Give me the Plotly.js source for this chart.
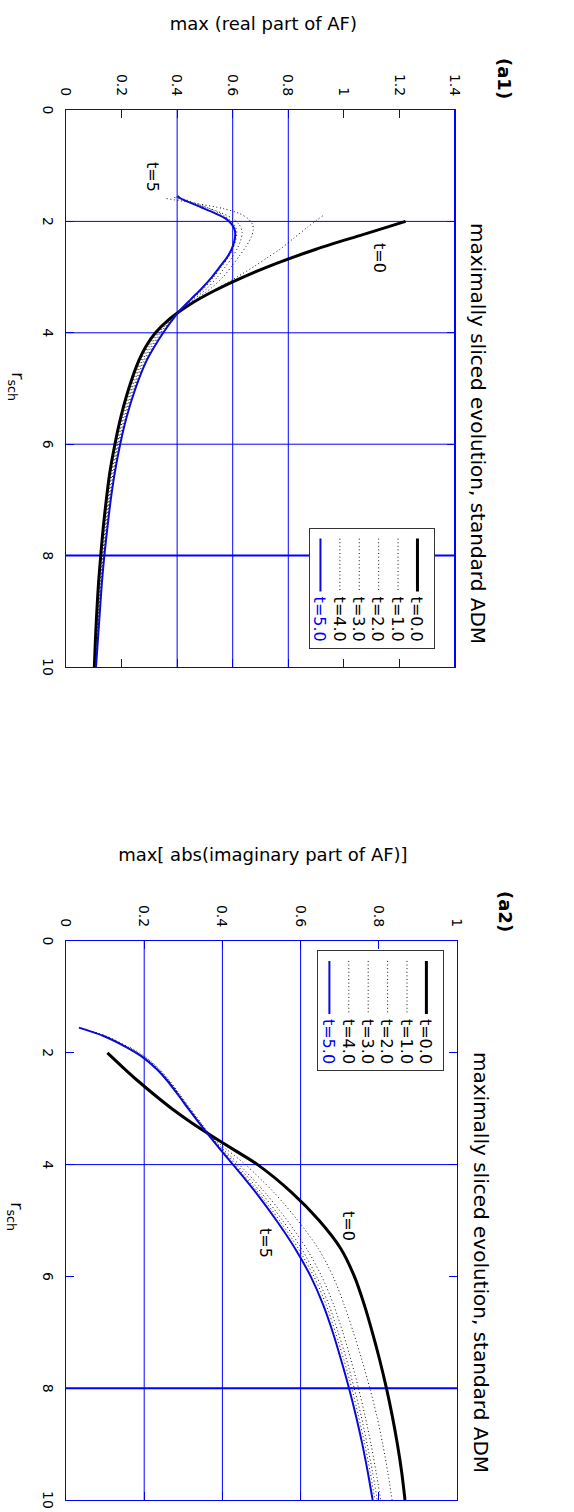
<!DOCTYPE html>
<html><head><meta charset="utf-8">
<script src="https://cdn.plot.ly/plotly-3.0.1.min.js"></script>
<style>
html,body{margin:0;padding:0;width:574px;height:1512px;overflow:hidden;background:#fff;}
.panel{position:absolute;left:0;width:756px;height:574px;transform-origin:0 0;transform:translate(574px,0) rotate(90deg);}
#p1{top:0;} #p2{top:756px;}
</style></head><body>
<div id="p1" class="panel"></div><div id="p2" class="panel"></div>
<script>
// ---------- data: panel (a1), max of real part of AF ----------
const seriesNames = ['t=0.0','t=1.0','t=2.0','t=3.0','t=4.0','t=5.0'];
const rTicks = [0,2,4,6,8,10];

const a1_r_t0 = [2.0,2.25,2.5,2.75,3.0,3.25,3.5,3.75,4.0,4.25,4.5,5.0,5.5,6.0,6.5,7.0,7.5,8.0,8.5,9.0,9.5,10.0];
const a1_y_t0 = [1.222,1.06,0.90,0.76,0.638,0.532,0.443,0.373,0.322,0.287,0.262,0.226,0.198,0.176,0.158,0.145,0.134,0.125,0.117,0.111,0.106,0.102];
const a1_r_t1 = [1.90,2.1,2.3,2.5,2.65,2.8,3.0,3.2,3.4,3.65,3.8,4.0,4.25,4.5,5.0,5.5,6.0,6.5,7.0,7.5,8.0,8.5,9.0,9.5,10.0];
const a1_y_t1 = [0.924,0.87,0.82,0.77,0.725,0.68,0.615,0.545,0.472,0.40,0.366,0.329,0.295,0.269,0.232,0.203,0.181,0.163,0.149,0.138,0.128,0.12,0.114,0.108,0.1035];
const a1_r_t2 = [1.59,1.68,1.77,1.86,1.95,2.05,2.15,2.28,2.45,2.62,2.8,3.0,3.2,3.4,3.65,3.8,4.0,4.25,4.5,5.0,5.5,6.0,6.5,7.0,7.5,8.0,8.5,9.0,9.5,10.0];
const a1_y_t2 = [0.362,0.47,0.566,0.625,0.655,0.671,0.674,0.667,0.648,0.624,0.597,0.565,0.522,0.468,0.40,0.369,0.335,0.301,0.275,0.237,0.207,0.185,0.166,0.152,0.141,0.131,0.122,0.116,0.11,0.105];
const a1_r_t3 = [1.57,1.65,1.74,1.85,1.95,2.07,2.2,2.35,2.5,2.66,2.81,3.0,3.2,3.4,3.65,3.8,4.0,4.25,4.5,5.0,5.5,6.0,6.5,7.0,7.5,8.0,8.5,9.0,9.5,10.0];
const a1_y_t3 = [0.39,0.44,0.50,0.56,0.60,0.625,0.634,0.628,0.615,0.596,0.574,0.545,0.508,0.46,0.40,0.372,0.34,0.307,0.28,0.242,0.212,0.188,0.17,0.155,0.144,0.133,0.125,0.118,0.112,0.106];
const a1_r_t4 = [1.56,1.6,1.7,1.8,1.9,2.0,2.1,2.21,2.35,2.5,2.66,2.81,3.0,3.2,3.4,3.65,3.8,4.0,4.25,4.5,5.0,5.5,6.0,6.5,7.0,7.5,8.0,8.5,9.0,9.5,10.0];
const a1_y_t4 = [0.398,0.425,0.48,0.53,0.57,0.595,0.61,0.615,0.61,0.60,0.582,0.56,0.532,0.497,0.454,0.40,0.376,0.346,0.313,0.286,0.246,0.216,0.192,0.173,0.158,0.147,0.136,0.127,0.12,0.113,0.107];
const a1_r_t5 = [1.54,1.58,1.65,1.75,1.85,1.95,2.05,2.15,2.25,2.35,2.5,2.65,2.8,3.0,3.2,3.4,3.6,3.8,4.0,4.25,4.5,5.0,5.5,6.0,6.5,7.0,7.5,8.0,8.5,9.0,9.5,10.0];
const a1_y_t5 = [0.402,0.41,0.44,0.488,0.535,0.575,0.596,0.607,0.609,0.606,0.596,0.579,0.556,0.525,0.489,0.449,0.41,0.378,0.35,0.318,0.29,0.25,0.219,0.195,0.176,0.161,0.149,0.138,0.129,0.122,0.115,0.108];

// ---------- data: panel (a2), max |imaginary part of AF| ----------
const a2_r_t0 = [2.0,2.25,2.5,2.75,3.0,3.25,3.5,3.75,4.0,4.5,5.0,5.5,6.0,6.5,7.0,7.5,8.0,8.5,9.0,9.5,10.0];
const a2_y_t0 = [0.106,0.144,0.1835,0.226,0.271,0.321,0.376,0.433,0.49,0.5775,0.6475,0.7025,0.7375,0.7625,0.7835,0.8025,0.8195,0.8345,0.8475,0.8585,0.867];
const a2_r_t1 = [1.9,2.1,2.3,2.5,2.75,3.0,3.25,3.5,3.75,4.0,4.5,5.0,5.5,6.0,6.5,7.0,7.5,8.0,8.5,9.0,9.5,10.0];
const a2_y_t1 = [0.164,0.208,0.24,0.265,0.292,0.318,0.345,0.372,0.415,0.459,0.532,0.593,0.645,0.683,0.711,0.735,0.757,0.777,0.795,0.81,0.823,0.834];
const a2_r_t2 = [1.62,1.7,1.9,2.1,2.3,2.5,2.75,3.0,3.25,3.5,3.75,4.0,4.5,5.0,5.5,6.0,6.5,7.0,7.5,8.0,8.5,9.0,9.5,10.0];
const a2_y_t2 = [0.066,0.103,0.16,0.206,0.238,0.263,0.29,0.316,0.343,0.371,0.406,0.443,0.509,0.566,0.615,0.654,0.684,0.708,0.729,0.748,0.765,0.78,0.793,0.805];
const a2_r_t3 = [1.58,1.7,1.9,2.1,2.3,2.5,2.75,3.0,3.25,3.5,3.75,4.0,4.5,5.0,5.5,6.0,6.5,7.0,7.5,8.0,8.5,9.0,9.5,10.0];
const a2_y_t3 = [0.05,0.1,0.158,0.204,0.236,0.262,0.289,0.315,0.342,0.37,0.402,0.436,0.499,0.554,0.602,0.641,0.672,0.696,0.718,0.737,0.755,0.77,0.784,0.796];
const a2_r_t4 = [1.56,1.7,1.9,2.1,2.3,2.5,2.75,3.0,3.25,3.5,3.75,4.0,4.5,5.0,5.5,6.0,6.5,7.0,7.5,8.0,8.5,9.0,9.5,10.0];
const a2_y_t4 = [0.04,0.098,0.156,0.202,0.235,0.261,0.288,0.314,0.341,0.369,0.40,0.431,0.492,0.546,0.594,0.634,0.665,0.689,0.711,0.731,0.748,0.764,0.778,0.79];
const a2_r_t5 = [1.55,1.7,1.9,2.1,2.3,2.5,2.75,3.0,3.25,3.5,3.75,4.0,4.25,4.5,5.0,5.5,6.0,6.5,7.0,7.5,8.0,8.5,9.0,9.5,10.0];
const a2_y_t5 = [0.033,0.096,0.154,0.20,0.233,0.259,0.2865,0.3128,0.3398,0.368,0.397,0.427,0.457,0.4858,0.5383,0.5858,0.6258,0.6573,0.6823,0.7038,0.7238,0.7418,0.7578,0.7718,0.7843];

// grid lines visible in the reference
const a1_gridR = [2,4,6,8], a1_gridV = [0.4,0.6,0.8];
const a2_gridR = [4,8],     a2_gridV = [0.2,0.4,0.6];

// ---------- styling ----------
const FONT = 'DejaVu Sans';
const BLUE = '#0000ff';
const CURVE_BLUE = '#0a0ad8';
const ROW = 19.4;
const styles = [
  {color:'#000', width:3,   dash:'solid'},
  {color:'#111', width:1,   dash:'1px,2.6px'},
  {color:'#111', width:1,   dash:'1px,2.6px'},
  {color:'#111', width:1,   dash:'1px,2.6px'},
  {color:'#111', width:1,   dash:'1px,2.6px'},
  {color:CURVE_BLUE, width:2, dash:'solid'}
];

function traces(rs, ys){
  return rs.map((r,i)=>({
    type:'scatter', mode:'lines', x:r, y:ys[i],
    name: i===5 ? '<span style="color:'+BLUE+'">'+seriesNames[i]+'</span>' : seriesNames[i],
    line:Object.assign({shape:'spline', smoothing:0.8}, styles[i])
  }));
}

function gridShapes(gr, gv, thickR){
  const s=[];
  gr.forEach(v=>s.push({type:'line', xref:'x', yref:'paper', x0:v, x1:v, y0:0, y1:1,
     line:{color:BLUE, width: v===thickR ? 2 : 1}, layer:'below'}));
  gv.forEach(v=>s.push({type:'line', xref:'paper', yref:'y', x0:0, x1:1, y0:v, y1:v,
     line:{color:BLUE, width:1}, layer:'below'}));
  return s;
}

function axisBase(){
  return {showgrid:false, zeroline:false, showline:true, linecolor:BLUE, linewidth:1,
    mirror:'ticks', ticks:'inside', ticklen:8, tickcolor:BLUE, tickwidth:1,
    tickfont:{family:FONT, size:14, color:'#000'}};
}

function layout(o){
  return {
    width:756, height:574, paper_bgcolor:'#fff', plot_bgcolor:'#fff',
    margin:o.margin, showlegend:true,
    font:{family:FONT, color:'#000'},
    xaxis:Object.assign(axisBase(), {range:[0,10], tickvals:rTicks, ticklabelstandoff:5}),
    yaxis:Object.assign(axisBase(), {range:[0,o.ymax], dtick:0.2, tick0:0, ticklabelstandoff:10}),
    legend:Object.assign({bgcolor:'#fff', bordercolor:'#333', borderwidth:1, itemwidth:58,
      font:{family:FONT, size:16, color:'#000'}, tracegroupgap:0}, o.legend),
    shapes:o.shapes,
    annotations:[
      {xref:'paper', yref:'paper', x:o.title[0], y:o.title[1], text:'maximally sliced evolution, standard ADM',
        showarrow:false, font:{size:20}, xanchor:'center', yanchor:'middle'},
      {xref:'paper', yref:'paper', x:o.tag[0], y:o.tag[1], text:'<b>'+o.tagText+'</b>',
        showarrow:false, font:{size:18}, xanchor:'center', yanchor:'middle'},
      {xref:'paper', yref:'paper', x:o.ytitle[0], y:o.ytitle[1], text:o.ytitleText, textangle:-90,
        showarrow:false, font:{size:18}, xanchor:'center', yanchor:'middle'},
      {xref:'paper', yref:'paper', x:o.xtitle[0], y:o.xtitle[1], text:'r<sub>sch</sub>',
        showarrow:false, font:{size:18}, xanchor:'center', yanchor:'middle'},
      {xref:'x', yref:'y', x:o.lab0[0], y:o.lab0[1], text:'t=0', showarrow:false, font:{size:16}},
      {xref:'x', yref:'y', x:o.lab5[0], y:o.lab5[1], text:'t=5', showarrow:false, font:{size:16}}
    ]
  };
}

// longer legend samples and tighter legend rows, as in the reference
function fixLegend(gd){
  gd.querySelectorAll('.legendlines path').forEach(p=>p.setAttribute('d','M10,0h53'));
  const items = Array.from(gd.querySelectorAll('.legend .traces'));
  if(items.length<2) return;
  const parse = el => { const m = /translate\(\s*([-\d.]+)[ ,]+([-\d.]+)\s*\)/.exec(el.getAttribute('transform')||''); return m?[+m[1],+m[2]]:null; };
  const p0 = parse(items[0]), p1 = parse(items[1]);
  if(!p0||!p1) return;
  const old = p1[1]-p0[1];
  const top = p0[1] - (old-ROW)/2 + 2;
  items.forEach((el,i)=>{ const p=parse(el); if(p) el.setAttribute('transform','translate('+p[0]+','+(top+i*ROW)+')'); });
  const bg = gd.querySelector('.legend rect.bg');
  if(bg){ const h=+bg.getAttribute('height'); bg.setAttribute('height', h - (old-ROW)*items.length - 2); }
}

const cfg = {staticPlot:true, displayModeBar:false};

Plotly.newPlot('p1',
  traces([a1_r_t0,a1_r_t1,a1_r_t2,a1_r_t3,a1_r_t4,a1_r_t5],[a1_y_t0,a1_y_t1,a1_y_t2,a1_y_t3,a1_y_t4,a1_y_t5]),
  layout({margin:{l:110,r:89,t:119,b:66,pad:0}, ymax:1.4,
    legend:{x:0.967, xanchor:'right', y:0.949, yanchor:'top'},
    shapes:gridShapes(a1_gridR, a1_gridV, 8).concat([{type:'line', xref:'paper', yref:'paper', x0:0, x1:1, y0:1, y1:1, line:{color:BLUE, width:2}}]),
    title:[0.58,1.059], tag:[-0.057,1.128], tagText:'(a1)',
    ytitle:[-0.156,0.506], ytitleText:'max (real part of AF)',
    xtitle:[0.496,-0.127], lab0:[2.65,1.127], lab5:[1.2,0.313]}), cfg).then(fixLegend);

Plotly.newPlot('p2',
  traces([a2_r_t0,a2_r_t1,a2_r_t2,a2_r_t3,a2_r_t4,a2_r_t5],[a2_y_t0,a2_y_t1,a2_y_t2,a2_y_t3,a2_y_t4,a2_y_t5]),
  layout({margin:{l:185,r:12,t:117,b:66,pad:0}, ymax:1,
    legend:{x:0.016, xanchor:'left', y:0.967, yanchor:'top'},
    shapes:gridShapes(a2_gridR, a2_gridV, 8),
    title:[0.575,1.062], tag:[-0.053,1.123], tagText:'(a2)',
    ytitle:[-0.154,0.504], ytitleText:'max[ abs(imaginary part of AF)]',
    xtitle:[0.492,-0.127], lab0:[5.09,0.722], lab5:[5.41,0.51]}), cfg).then(fixLegend);
</script></body></html>
